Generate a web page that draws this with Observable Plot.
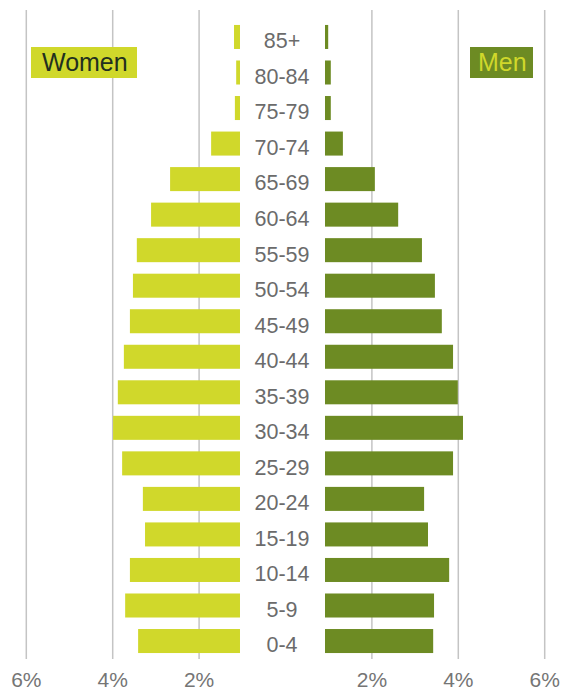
<!DOCTYPE html>
<html><head><meta charset="utf-8">
<script src="https://cdn.jsdelivr.net/npm/d3@7"></script>
<script src="https://cdn.jsdelivr.net/npm/@observablehq/plot@0.6"></script>
<style>
body{margin:0;background:#fff;font-family:"Liberation Sans",Arial,sans-serif}
#wrap{position:relative;width:561px;height:690px}
.key{position:absolute;top:47px;height:31px;line-height:31px;font-size:25px;box-sizing:border-box;white-space:nowrap}
</style></head>
<body><div id="wrap"></div>
<script>
const ages = ["85+","80-84","75-79","70-74","65-69","60-64","55-59","50-54","45-49","40-44","35-39","30-34","25-29","20-24","15-19","10-14","5-9","0-4"];
const women = [1.18,1.13,1.16,1.71,2.66,3.10,3.43,3.52,3.59,3.73,3.87,3.98,3.77,3.29,3.24,3.59,3.70,3.40];
const men   = [1.00,1.06,1.06,1.34,2.08,2.62,3.17,3.47,3.63,3.89,4.00,4.12,3.89,3.22,3.31,3.80,3.45,3.43];
const tickValues = [-6,-4,-2,2,4,6];
const seriesNames = ["Women","Men"];

const womenColor = "#d0d82b";
const menColor = "#6d8b23";
const womenGap = 1.042;
const menGap = 0.926;

const rows = ages.map((age, i) => ({age, women: women[i], men: men[i]}));

const chart = Plot.plot({
  width: 561, height: 690,
  marginTop: 10, marginBottom: 31, marginLeft: 0, marginRight: 0,
  style: {fontFamily: "Liberation Sans, Arial, sans-serif", background: "#fff"},
  x: {domain: [-6, 6], range: [25.8, 544.2], label: null},
  y: {domain: ages, range: [19.2, 658.8], paddingInner: 0.324, paddingOuter: 0.162, round: false, axis: null, label: null},
  marks: [
    Plot.gridX(tickValues, {stroke: "#c4c4c4", strokeOpacity: 1, strokeWidth: 1.5}),
    Plot.axisX(tickValues, {tickSize: 0, tickPadding: 13, fontSize: 21, color: "#757575", label: null,
      tickFormat: d => Math.abs(d) + "%"}),
    Plot.barX(rows, {y: "age", x1: d => -d.women, x2: () => -womenGap, fill: womenColor}),
    Plot.barX(rows, {y: "age", x1: () => menGap, x2: "men", fill: menColor}),
    Plot.text(rows, {x: () => 0, y: "age", text: "age", fontSize: 21.5, fill: "#6b6b6b", dx: -3.5, dy: 4})
  ]
});

const wrap = document.getElementById("wrap");
wrap.appendChild(chart);

const kW = document.createElement("div");
kW.className = "key";
kW.textContent = seriesNames[0];
Object.assign(kW.style, {left: "31px", width: "106px", paddingLeft: "11px", background: womenColor, color: "#22301f"});
wrap.appendChild(kW);

const kM = document.createElement("div");
kM.className = "key";
kM.textContent = seriesNames[1];
Object.assign(kM.style, {left: "470px", width: "63px", paddingLeft: "8px", background: menColor, color: womenColor});
wrap.appendChild(kM);
</script>
</body></html>
